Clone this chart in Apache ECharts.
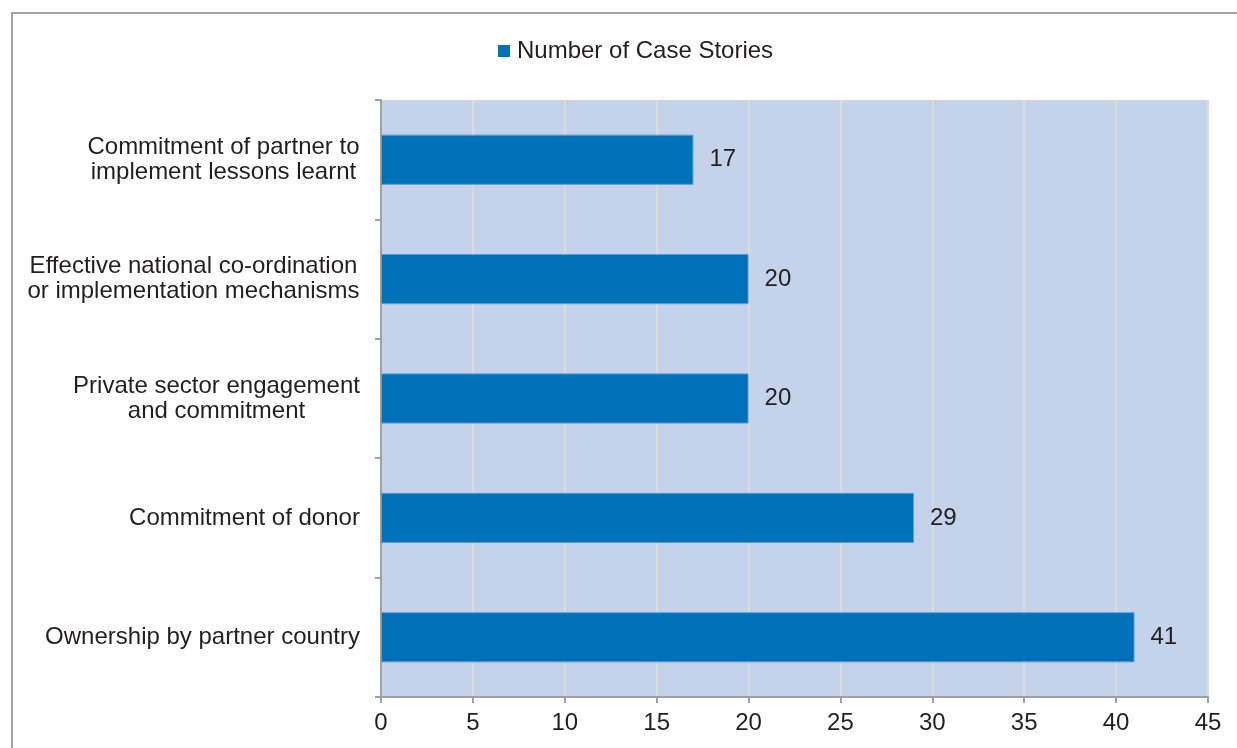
<!DOCTYPE html>
<html>
<head>
<meta charset="utf-8">
<script src="https://cdn.jsdelivr.net/npm/echarts@6/dist/echarts.min.js"></script>
<style>
  html, body { margin: 0; padding: 0; background: #ffffff; }
  #chart { width: 1237px; height: 748px; }
</style>
</head>
<body>
<div id="chart"></div>
<script>
// Success factors and the number of case stories citing each
const categories = [
  'Commitment of partner to\nimplement lessons learnt',
  'Effective national co-ordination\nor implementation mechanisms',
  'Private sector engagement\nand commitment',
  'Commitment of donor',
  'Ownership by partner country'
];
const caseStories = [17, 20, 20, 29, 41];
const seriesName = 'Number of Case Stories';
const xMin = 0, xMax = 45, xStep = 5;

const textColor = '#231f20';
const fontFamily = 'Liberation Sans, Arial, sans-serif';
const fontSize = 24;

// Multi-line category labels: each line centred within its own block,
// the block itself right-aligned against the axis.
const measureCtx = document.createElement('canvas').getContext('2d');
measureCtx.font = fontSize + 'px ' + fontFamily;
const richStyles = {};
categories.forEach(function (label, i) {
  const w = Math.max.apply(null, label.split('\n').map(function (s) {
    return Math.ceil(measureCtx.measureText(s).width);
  }));
  richStyles['c' + i] = {
    width: w, align: 'center', fontSize: fontSize, lineHeight: 25,
    color: textColor, fontFamily: fontFamily
  };
});

const chart = echarts.init(document.getElementById('chart'), null, { renderer: 'canvas' });
chart.setOption({
  animation: false,
  backgroundColor: '#ffffff',
  textStyle: { fontFamily: fontFamily, color: textColor },
  graphic: [{
    type: 'rect',
    silent: true,
    shape: { x: 12, y: 13, width: 1400, height: 900 },
    style: { fill: 'none', stroke: '#a3a3a3', lineWidth: 2 }
  }],
  legend: {
    top: 34,
    left: 493,
    itemWidth: 12,
    itemHeight: 12,
    itemGap: 10,
    icon: 'rect',
    itemStyle: { borderWidth: 0 },
    textStyle: { fontSize: fontSize, color: textColor, fontFamily: fontFamily, padding: [0, 0, 0, 2] },
    data: [seriesName]
  },
  grid: {
    left: 381, right: 29, top: 100, bottom: 51,
    show: true, backgroundColor: '#c5d3ea', borderWidth: 0,
    containLabel: false
  },
  xAxis: {
    type: 'value',
    min: xMin, max: xMax, interval: xStep,
    axisLine: { show: true, lineStyle: { color: '#a0a0a0', width: 2 } },
    axisTick: { show: true, length: 6, lineStyle: { color: '#a0a0a0', width: 2 } },
    axisLabel: { fontSize: fontSize, color: textColor, margin: 14, fontFamily: fontFamily },
    splitLine: { show: true, lineStyle: { color: '#dadada', width: 2 } }
  },
  yAxis: {
    type: 'category',
    inverse: true,
    data: categories,
    boundaryGap: true,
    axisLine: { show: true, lineStyle: { color: '#a0a0a0', width: 2 } },
    axisTick: { show: true, length: 6, lineStyle: { color: '#a0a0a0', width: 2 } },
    axisLabel: {
      fontSize: fontSize, color: textColor, margin: 21, align: 'right',
      lineHeight: 25, fontFamily: fontFamily,
      formatter: function (value, index) {
        return value.split('\n').map(function (s) {
          return '{c' + index + '|' + s + '}';
        }).join('\n');
      },
      rich: richStyles
    },
    splitLine: { show: false }
  },
  series: [{
    name: seriesName,
    type: 'bar',
    data: caseStories,
    barWidth: '42%',
    itemStyle: { color: '#0070b9', borderColor: '#5b9bd5', borderWidth: 1 },
    label: {
      show: true, position: 'right', distance: 16,
      fontSize: fontSize, color: textColor, fontFamily: fontFamily
    }
  }]
});
</script>
</body>
</html>
